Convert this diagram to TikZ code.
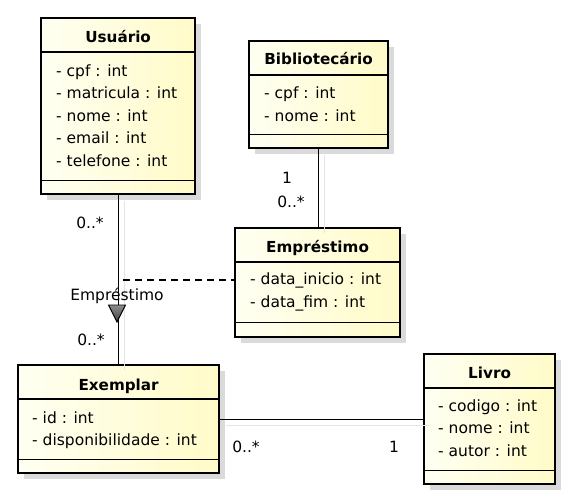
\documentclass[tikz,border=0pt]{standalone}
\usepackage{fontspec}
\setmainfont{DejaVu Sans}
\usetikzlibrary{positioning,shadows}
\definecolor{classlight}{RGB}{255,255,242}
\definecolor{classdark}{RGB}{255,251,200}
\definecolor{shadowgray}{RGB}{218,218,218}
\definecolor{lineshadow}{RGB}{228,228,228}
\tikzset{
classbox/.style={rectangle, draw=black, line width=2.2pt,
  left color=classlight, right color=classdark,
  inner sep=0pt, anchor=north west,
  drop shadow={shadow xshift=6pt, shadow yshift=-6pt, fill=shadowgray, opacity=1}},
ctitle/.style={font=\bfseries\fontsize{15.2}{17}\selectfont, anchor=base, inner sep=0pt},
cattr/.style={font=\fontsize{15.5}{22.5}\selectfont, align=left, anchor=north west, inner sep=0pt},
mult/.style={font=\fontsize{15.5}{18}\selectfont, inner sep=0pt},
csep/.style={line width=1.2pt},
cshadow/.style={draw=lineshadow, line width=1.2pt, transform canvas={shift={(6pt,-6pt)}}},
assocline/.style={line width=1.2pt},
dashline/.style={line width=1.2pt, dash pattern=on 7pt off 5pt}
}
\begin{document}
\begin{tikzpicture}[x=1pt,y=-1pt]
\useasboundingbox (0,0) rectangle (570,500);
% classes
\node[classbox, minimum width=154pt, minimum height=176pt] (usu) at (40,17) {};
\node[classbox, minimum width=139pt, minimum height=107pt] (bib) at (248,40) {};
\node[classbox, minimum width=165pt, minimum height=109pt] (emp) at (234,227) {};
\node[classbox, minimum width=201pt, minimum height=108pt] (exe) at (17,364) {};
\node[classbox, minimum width=131pt, minimum height=130pt] (liv) at (423,353) {};
% compartments
\draw[csep] ([yshift=-35pt]usu.north west) -- ([yshift=-35pt]usu.north east);
\draw[csep] ([yshift=15pt]usu.south west) -- ([yshift=15pt]usu.south east);
\draw[csep] ([yshift=-35pt]bib.north west) -- ([yshift=-35pt]bib.north east);
\draw[csep] ([yshift=15pt]bib.south west) -- ([yshift=15pt]bib.south east);
\draw[csep] ([yshift=-35pt]emp.north west) -- ([yshift=-35pt]emp.north east);
\draw[csep] ([yshift=16pt]emp.south west) -- ([yshift=16pt]emp.south east);
\draw[csep] ([yshift=-35pt]exe.north west) -- ([yshift=-35pt]exe.north east);
\draw[csep] ([yshift=15pt]exe.south west) -- ([yshift=15pt]exe.south east);
\draw[csep] ([yshift=-35pt]liv.north west) -- ([yshift=-35pt]liv.north east);
\draw[csep] ([yshift=15pt]liv.south west) -- ([yshift=15pt]liv.south east);
% names
\node[ctitle] (usut) at ([yshift=-26pt]usu.north) {Usuário};
\node[ctitle] (bibt) at ([yshift=-25pt]bib.north) {Bibliotecário};
\node[ctitle] (empt) at ([yshift=-25.5pt]emp.north) {Empréstimo};
\node[ctitle] (exet) at ([yshift=-26pt]exe.north) {Exemplar};
\node[ctitle] (livt) at ([yshift=-25pt]liv.north) {Livro};
% attributes
\node[cattr] (usua) at ([xshift=16pt,yshift=-43.5pt]usu.north west)
{\strut - cpf : int\\\strut - matricula : int\\\strut - nome : int\\\strut - email : int\\\strut - telefone : int};
\node[cattr] (biba) at ([xshift=16pt,yshift=-43pt]bib.north west)
{\strut - cpf : int\\\strut - nome : int};
\node[cattr] (empa) at ([xshift=16pt,yshift=-42pt]emp.north west)
{\strut - data\_inicio : int\\\strut - data\_fim : int};
\node[cattr] (exea) at ([xshift=15pt,yshift=-43.5pt]exe.north west)
{\strut - id : int\\\strut - disponibilidade : int};
\node[cattr] (liva) at ([xshift=15pt,yshift=-42.5pt]liv.north west)
{\strut - codigo : int\\\strut - nome : int\\\strut - autor : int};
% connector shadows
\draw[cshadow] (usu.south) -- (usu.south |- exe.north);
\draw[cshadow] (bib.south) -- (bib.south |- emp.north);
\draw[cshadow] (exe.east) -- (exe.east -| liv.west);
% associations
\draw[assocline] (usu.south) -- (usu.south |- exe.north);
\draw[assocline] (bib.south) -- (bib.south |- emp.north);
\draw[assocline] (exe.east) -- (exe.east -| liv.west);
\coordinate (dl) at (123,280);
\draw[dashline] (dl) -- (dl -| emp.west);
% association name
\node[mult] (aname) at (117,296) {Empréstimo};
\draw[line width=0.9pt, top color=black!45, bottom color=black!75] (108.5,305) -- (125.5,305) -- (117,322) -- cycle;
% multiplicities
\node[mult] (m1) at (90,223) {0..*};
\node[mult] (m2) at (91,340) {0..*};
\node[mult] (m3) at (287,178) {1};
\node[mult] (m4) at (291,202) {0..*};
\node[mult] (m5) at (246,447) {0..*};
\node[mult] (m6) at (394,447) {1};
\end{tikzpicture}
\end{document}
